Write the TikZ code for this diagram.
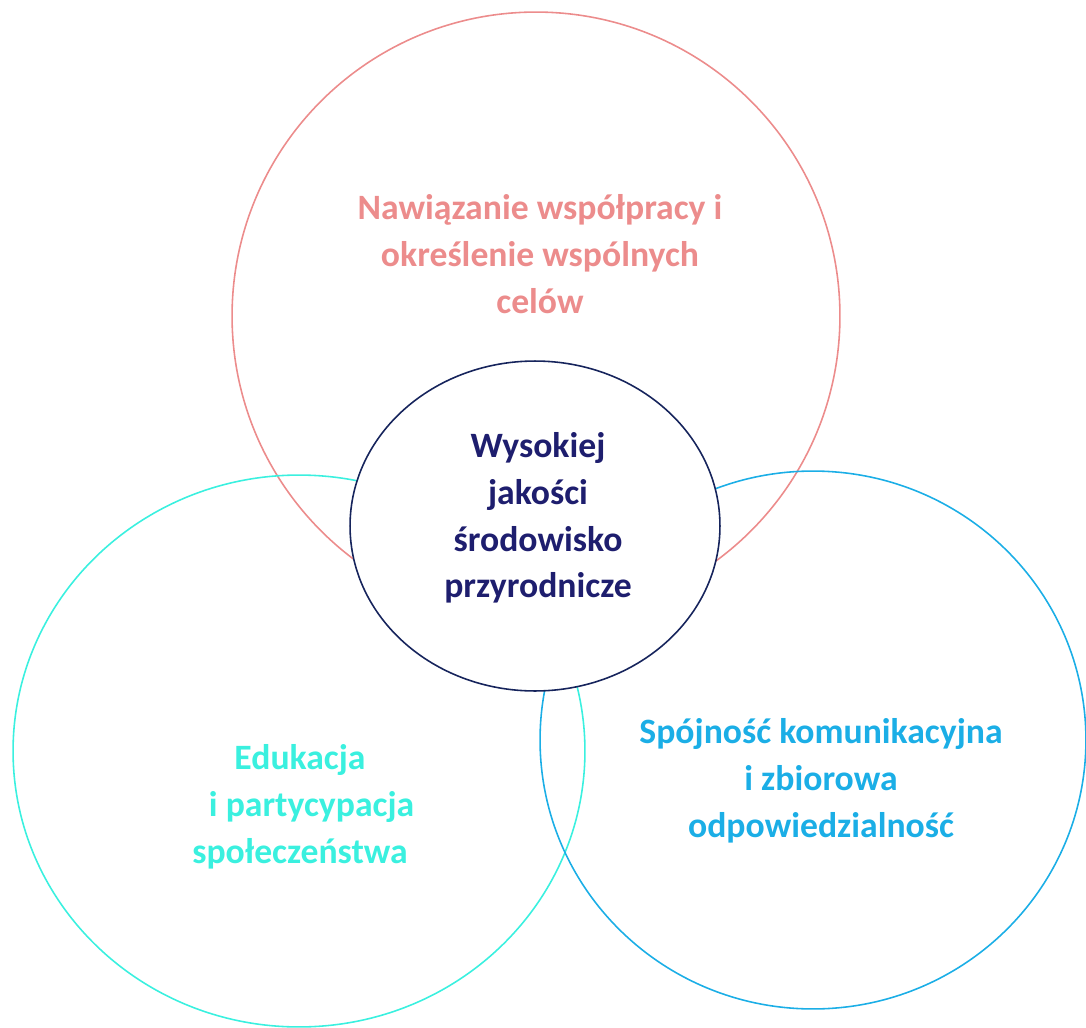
\documentclass[tikz,border=0pt]{standalone}
\usepackage{fontspec}
\setmainfont{Carlito}
\usepackage{xcolor}
\usepackage{tikz}
\usetikzlibrary{positioning}
\usetikzlibrary{shapes}
\definecolor{salmonring}{HTML}{EC8C8C}
\definecolor{aquaring}{HTML}{3AF0DF}
\definecolor{skyring}{HTML}{1BAEE6}
\definecolor{navycore}{HTML}{1E1E6E}
\definecolor{navyedge}{HTML}{16245C}

\begin{document}
\begin{tikzpicture}[x=0.02cm, y=-0.02cm,
        every node/.style={inner sep=0pt, outer sep=0pt},
        ring/.style={ellipse, draw, line width=0.9pt},
        ringtext/.style={align=center, font=\bfseries\fontsize{20.3}{26.6}\selectfont}]
        \useasboundingbox (0,0) rectangle (1086,1028);

        \node[ring, draw=salmonring, minimum width=12.16cm, minimum height=12.16cm] (goals) at (536,316) {};
        \node[ring, draw=aquaring, minimum width=11.44cm, minimum height=11.04cm] (education) at (299,751) {};
        \node[ring, draw=skyring, minimum width=10.92cm, minimum height=10.76cm] (communication) at (813,740) {};
        \node[ring, draw=navyedge, fill=white, minimum width=7.4cm, minimum height=6.6cm] (nature) at (535,526) {};

        \node[ringtext, text=salmonring] (goalstext) at (540,254) {Nawiązanie współpracy i\\określenie wspólnych\\celów};
        \node[ringtext, text=navycore] (naturetext) at (538,518) {Wysokiej\\jakości\\środowisko\\przyrodnicze};
        \node[ringtext, text=aquaring] (educationtext) at (300,807) {Edukacja\\\hspace{0.65em}i partycypacja\\społeczeństwa};
        \node[ringtext, text=skyring] (communicationtext) at (821,781) {Spójność komunikacyjna\\i zbiorowa\\odpowiedzialność};
    \end{tikzpicture}
\end{document}
